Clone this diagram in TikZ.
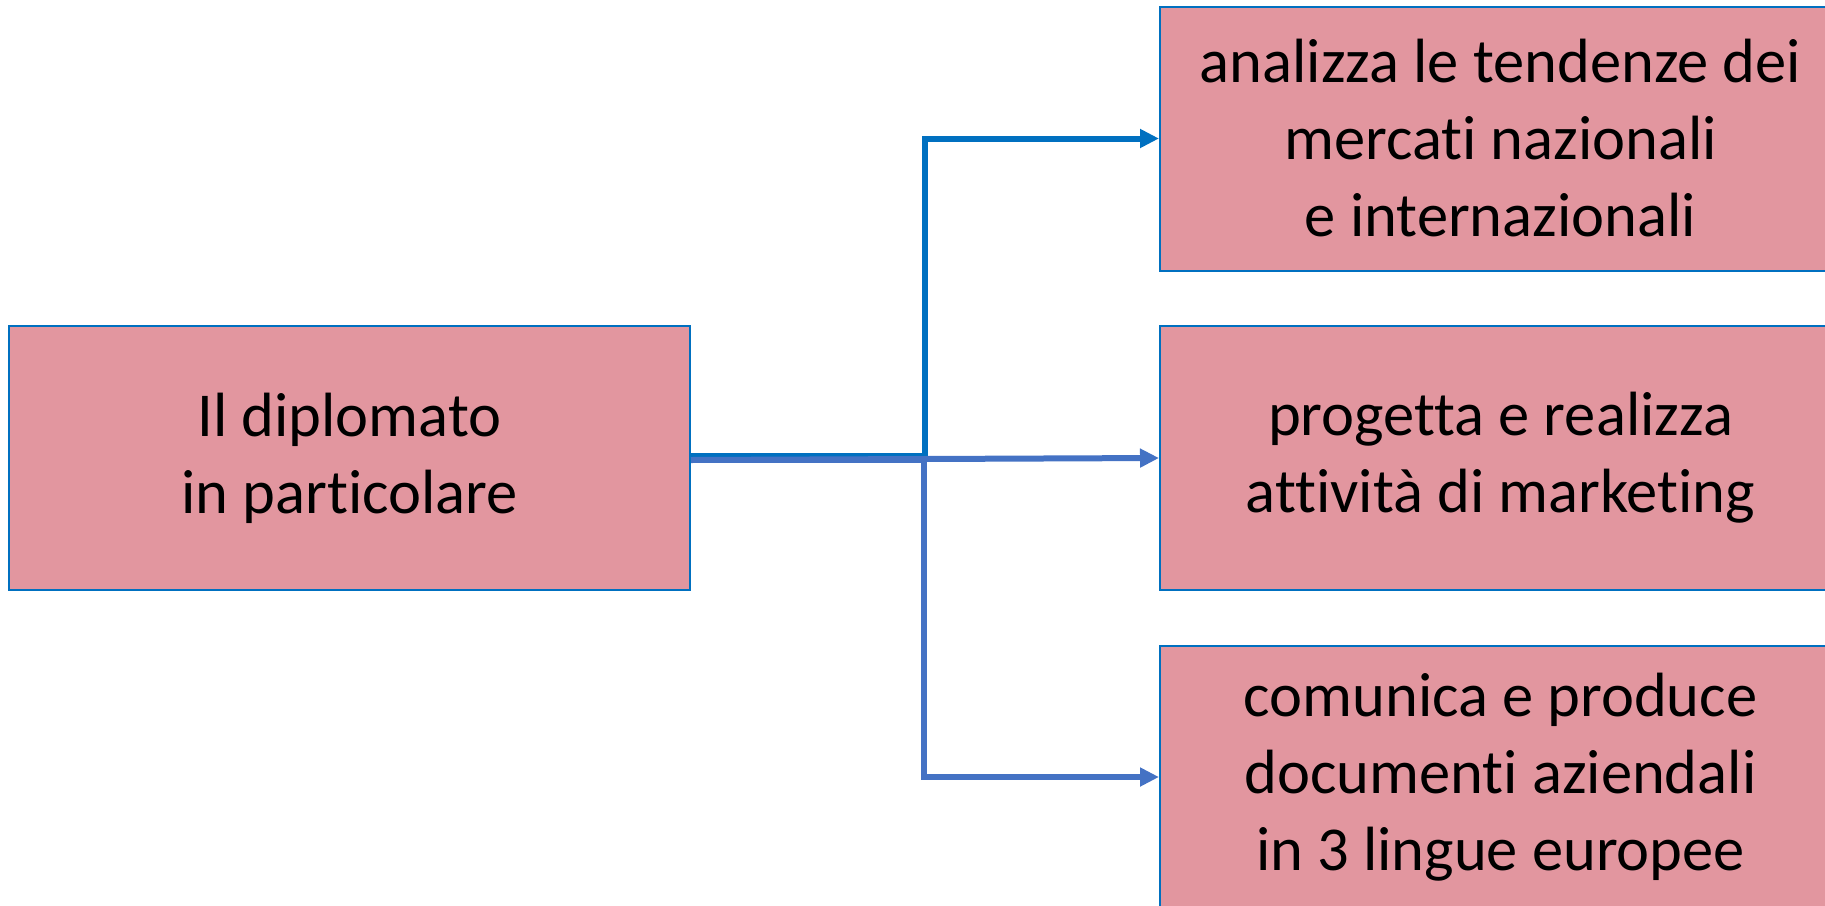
\documentclass[tikz,border=0pt]{standalone}
\usepackage{fontspec}
\setmainfont[Ligatures=NoCommon]{Carlito}
\usetikzlibrary{arrows.meta}
\definecolor{boxfill}{HTML}{E2969F}
\definecolor{boxline}{HTML}{0070C0}
\definecolor{darkconn}{HTML}{0070C0}
\definecolor{lightconn}{HTML}{4472C4}
\tikzset{
  box/.style={draw=boxline, line width=2pt, fill=boxfill, rectangle,
    minimum width=681pt, minimum height=264pt, inner sep=0pt, align=center,
    font=\fontsize{62.5pt}{77pt}\selectfont, text=black},
  connA/.style={draw=darkconn, line width=6pt, -{Triangle[length=19pt,width=18pt]}},
  connB/.style={draw=lightconn, line width=6pt, -{Triangle[length=19pt,width=18pt]}}
}
\begin{document}
\begin{tikzpicture}[x=1pt,y=-1pt]
\useasboundingbox (0,0) rectangle (1825,905);
\node[box] (L) at (349.5,458) {Il diplomato\\in particolare};
\node[box] (T) at (1500.5,138.5) {analizza le tendenze dei\\mercati nazionali\\e internazionali};
\node[box] (M) at (1500.5,458) {progetta e realizza\\attività di marketing};
\node[box, minimum height=262pt] (B) at (1500.5,777) {comunica e produce\\documenti aziendali\\in 3 lingue europee};
\draw[connA] ([yshift=2.5pt]L.east) -| ([xshift=-234pt]T.west) -- (T.west);
\draw[connB] ([yshift=-2pt]L.east) -- (M.west);
\draw[connB] ([yshift=-2pt]L.east) -| ([xshift=-235.5pt]B.west) -- (B.west);
\end{tikzpicture}
\end{document}
